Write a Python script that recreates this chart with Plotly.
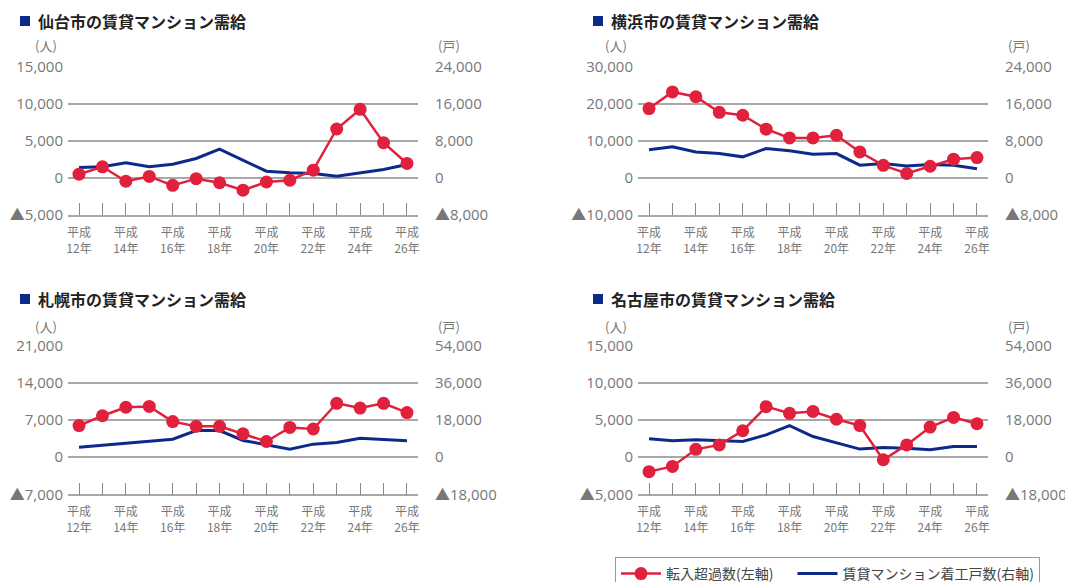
import plotly.graph_objects as go

years = list(range(12, 27))
x_ticktext = [f"平成<br>{y}年" if y % 2 == 0 else "" for y in years]

titles = ["仙台市の賃貸マンション需給", "横浜市の賃貸マンション需給",
          "札幌市の賃貸マンション需給", "名古屋市の賃貸マンション需給"]

# 転入超過数 (left axis, persons)
sendai_in = [500, 1500, -450, 200, -1000, -100, -650, -1650, -550, -300, 1050, 6600, 9250, 4750, 1950]
yokohama_in = [18700, 23200, 21900, 17700, 16900, 13150, 10800, 10800, 11500, 7000, 3400, 1200, 3150, 5050, 5500]
sapporo_in = [5950, 7800, 9400, 9550, 6700, 5800, 5800, 4400, 2950, 5600, 5300, 10150, 9250, 10150, 8400]
nagoya_in = [-1950, -1250, 1050, 1650, 3550, 6800, 5900, 6150, 5100, 4250, -350, 1650, 4050, 5350, 4500]

# 賃貸マンション着工戸数 (right axis, units)
sendai_st = [2250, 2400, 3250, 2400, 2950, 4200, 6200, 3800, 1450, 1100, 950, 350, 1100, 1800, 2900]
yokohama_st = [6100, 6700, 5600, 5250, 4550, 6350, 5850, 5100, 5250, 2750, 3100, 2600, 2900, 2750, 2000]
sapporo_st = [4850, 5800, 6800, 7750, 8700, 12900, 12900, 8100, 6000, 3900, 6300, 7100, 9200, 8400, 7900]
nagoya_st = [8900, 7900, 8400, 8100, 7600, 10800, 15300, 10000, 6800, 3900, 4700, 4350, 3550, 5150, 5150]

inflow = [sendai_in, yokohama_in, sapporo_in, nagoya_in]
starts = [sendai_st, yokohama_st, sapporo_st, nagoya_st]

left_ticks = [[-5000, 0, 5000, 10000, 15000], [-10000, 0, 10000, 20000, 30000],
              [-7000, 0, 7000, 14000, 21000], [-5000, 0, 5000, 10000, 15000]]
right_ticks = [[-8000, 0, 8000, 16000, 24000], [-8000, 0, 8000, 16000, 24000],
               [-18000, 0, 18000, 36000, 54000], [-18000, 0, 18000, 36000, 54000]]

series_names = ["転入超過数(左軸)\u3000", "賃貸マンション着工戸数(右軸)"]

# page body has an 8px margin; work in screen pixels and subtract it
OFF = 8
W, H = 1073 - OFF, 582 - OFF
RED = "#e0203c"
NAVY = "#0d2a8a"
GRID = "#a8a8a8"
TICKC = "#777777"
FONT = "Noto Sans CJK JP"
NUMFONT = "Open Sans, Noto Sans CJK JP"


def px(x):
    return (x - OFF) / W


def py(y):
    return 1 - (y - OFF) / H


# plot boxes in screen pixels: (left, right, top, bottom)
boxes = [(68, 418, 66.7, 215), (638, 988, 66.7, 215),
         (68, 418, 345.7, 494.3), (638, 988, 345.7, 494.3)]


def fmt(v):
    s = f"{abs(v):,}"
    return ("▲" + s) if v < 0 else s


fig = go.Figure()
layout = {}
annotations = []
shapes = []

for i in range(4):
    l, r, t, b = boxes[i]
    xd = [px(l), px(r)]
    yd = [py(b), py(t)]
    n = i + 1
    xa = "x" if n == 1 else f"x{n}"
    ya_base = f"y{2*n-1}" if n > 1 else "y"
    ya_over = f"y{2*n}"
    xkey = "xaxis" if n == 1 else f"xaxis{n}"
    ybkey = "yaxis" if n == 1 else f"yaxis{2*n-1}"
    yokey = f"yaxis{2*n}"

    # base axis: right (starts)
    fig.add_trace(go.Scatter(x=years, y=starts[i], mode="lines", name=series_names[1],
                             line=dict(color=NAVY, width=3), xaxis=xa, yaxis=ya_base,
                             showlegend=(i == 0), legendrank=2))
    # overlay axis: left (inflow)
    fig.add_trace(go.Scatter(x=years, y=inflow[i], mode="lines+markers", name=series_names[0],
                             line=dict(color=RED, width=2.5),
                             marker=dict(color=RED, size=13),
                             xaxis=xa, yaxis=ya_over,
                             showlegend=(i == 0), legendrank=1))

    lt, rt = left_ticks[i], right_ticks[i]
    layout[xkey] = dict(domain=xd, anchor=ya_base, range=[11.53, 26.47],
                        tickmode="array", tickvals=years, ticktext=x_ticktext,
                        ticks="inside", ticklen=12, tickwidth=1.3, tickcolor="#888",
                        showline=True, linecolor=GRID, linewidth=1.5,
                        showgrid=False, zeroline=False, automargin=False,
                        tickfont=dict(family=FONT, size=12, color=TICKC),
                        ticklabelstandoff=6, fixedrange=True)
    layout[ybkey] = dict(domain=yd, anchor=xa, side="right",
                         range=[rt[0], rt[-1]], tickmode="array", tickvals=rt,
                         ticktext=[fmt(v) for v in rt],
                         showgrid=True, gridcolor=GRID, gridwidth=1.5,
                         zeroline=False, showline=False, ticks="", automargin=False,
                         tickfont=dict(family=NUMFONT, size=15, color=TICKC),
                         ticklabelstandoff=16, fixedrange=True)
    layout[yokey] = dict(overlaying=ya_base, anchor=xa, side="left",
                         range=[lt[0], lt[-1]], tickmode="array", tickvals=lt,
                         ticktext=[fmt(v) for v in lt],
                         showgrid=False, zeroline=False, showline=False, ticks="", automargin=False,
                         tickfont=dict(family=NUMFONT, size=15, color=TICKC),
                         ticklabelstandoff=4, fixedrange=True)

    # title with square marker
    tx = 20 if i % 2 == 0 else 593
    ty = 21 if i < 2 else 299
    shapes.append(dict(type="rect", xref="paper", yref="paper",
                       x0=px(tx), x1=px(tx + 10), y0=py(ty + 5), y1=py(ty - 5),
                       fillcolor=NAVY, line=dict(width=0)))
    annotations.append(dict(text=f"<b>{titles[i]}</b>", xref="paper", yref="paper",
                            x=px(tx + 16), y=py(ty), xanchor="left", yanchor="middle",
                            showarrow=False, font=dict(family=FONT, size=16, color="#222")))
    # unit labels
    uy = 45 if i < 2 else 326
    annotations.append(dict(text="(人)", xref="paper", yref="paper",
                            x=px(l - 22), y=py(uy), xanchor="center", yanchor="middle",
                            showarrow=False, font=dict(family=FONT, size=13, color=TICKC)))
    annotations.append(dict(text="(戸)", xref="paper", yref="paper",
                            x=px(r + 31), y=py(uy), xanchor="center", yanchor="middle",
                            showarrow=False, font=dict(family=FONT, size=13, color=TICKC)))

fig.update_layout(**layout)
fig.update_layout(
    width=W, height=H, margin=dict(l=0, r=0, t=0, b=0, autoexpand=False),
    paper_bgcolor="white", plot_bgcolor="white",
    annotations=annotations, shapes=shapes,
    showlegend=True,
    legend=dict(orientation="h", x=px(615), xanchor="left", y=py(557), yanchor="top",
                bordercolor="#999", borderwidth=1, bgcolor="white",
                font=dict(family=FONT, size=14, color="#444"),
                traceorder="normal", itemwidth=40),
    font=dict(family=FONT),
)

fig.write_html("out.html")
